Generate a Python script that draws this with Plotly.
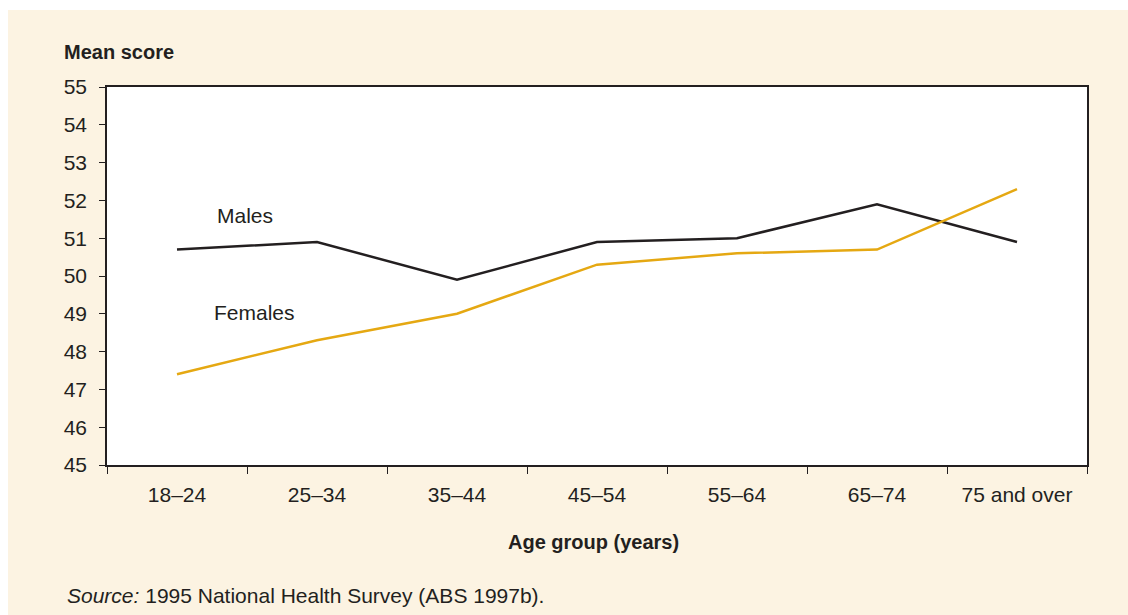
import plotly.graph_objects as go

age_groups = ["18–24", "25–34", "35–44", "45–54", "55–64", "65–74", "75 and over"]
males = [50.7, 50.9, 49.9, 50.9, 51.0, 51.9, 50.9]
females = [47.4, 48.3, 49.0, 50.3, 50.6, 50.7, 52.3]
y_ticks = list(range(45, 56))

FONT = "Liberation Sans, Arial, sans-serif"
TXT = "#231f20"
CREAM = "#fcf3e2"
FS = 21

fig = go.Figure()
fig.add_trace(go.Scatter(x=age_groups, y=males, mode="lines", name="Males",
                         line=dict(color="#231f20", width=2.5)))
fig.add_trace(go.Scatter(x=age_groups, y=females, mode="lines", name="Females",
                         line=dict(color="#e5a812", width=2.5)))

W, H = 1128, 615
L, T = 107, 87
R = W - 1087
B = H - 465
pw, ph = W - L - R, H - T - B

def px_x(p):
    return (p - L) / pw

def px_y(p):
    return (H - B - p) / ph

fig.update_layout(
    width=W, height=H,
    margin=dict(l=L, r=R, t=T, b=B),
    paper_bgcolor="white",
    plot_bgcolor="rgba(0,0,0,0)",
    showlegend=False,
    hovermode=False,
    font=dict(family=FONT, size=FS, color=TXT),
    shapes=[
        dict(type="rect", xref="paper", yref="paper", layer="below",
             x0=px_x(8), x1=px_x(1140), y0=px_y(10), y1=px_y(630),
             fillcolor=CREAM, line=dict(width=0)),
        dict(type="rect", xref="paper", yref="paper", layer="below",
             x0=0, x1=1, y0=0, y1=1, fillcolor="white", line=dict(width=0)),
    ],
    xaxis=dict(
        type="category", range=[-0.5, 6.5], tickson="boundaries",
        ticks="outside", ticklen=7, tickcolor=TXT, tickwidth=1,
        showline=True, linecolor=TXT, linewidth=1.5, mirror=True,
        showgrid=False, zeroline=False,
        tickfont=dict(family=FONT, size=FS, color=TXT),
        ticklabelstandoff=10,
    ),
    yaxis=dict(
        range=[45, 55], tickvals=y_ticks, ticktext=[str(v) for v in y_ticks],
        ticks="outside", ticklen=6, tickcolor=TXT, tickwidth=1,
        showline=True, linecolor=TXT, linewidth=1.5, mirror=True,
        showgrid=False, zeroline=False,
        tickfont=dict(family=FONT, size=FS, color=TXT),
        ticklabelstandoff=8,
    ),
    annotations=[
        dict(text="<b>Mean score</b>", xref="paper", yref="paper",
             x=px_x(62), y=px_y(52), xanchor="left", yanchor="middle",
             showarrow=False, font=dict(size=FS - 1)),
        dict(text="<b>Age group (years)</b>", xref="paper", yref="paper",
             x=px_x(593), y=px_y(542), xanchor="center", yanchor="middle",
             showarrow=False, font=dict(size=FS - 1)),
        dict(text="<i>Source:</i> 1995 National Health Survey (ABS 1997b).",
             xref="paper", yref="paper",
             x=px_x(65), y=px_y(595), xanchor="left", yanchor="middle",
             showarrow=False, font=dict(size=FS)),
        dict(text="Males", xref="paper", yref="paper",
             x=px_x(245), y=px_y(215), xanchor="center", yanchor="middle",
             showarrow=False, font=dict(size=FS)),
        dict(text="Females", xref="paper", yref="paper",
             x=px_x(254), y=px_y(312), xanchor="center", yanchor="middle",
             showarrow=False, font=dict(size=FS)),
    ],
)

fig.write_html("out.html",
               config={"displayModeBar": False},
               post_script="document.body.style.margin='0';document.body.style.overflow='hidden';")
